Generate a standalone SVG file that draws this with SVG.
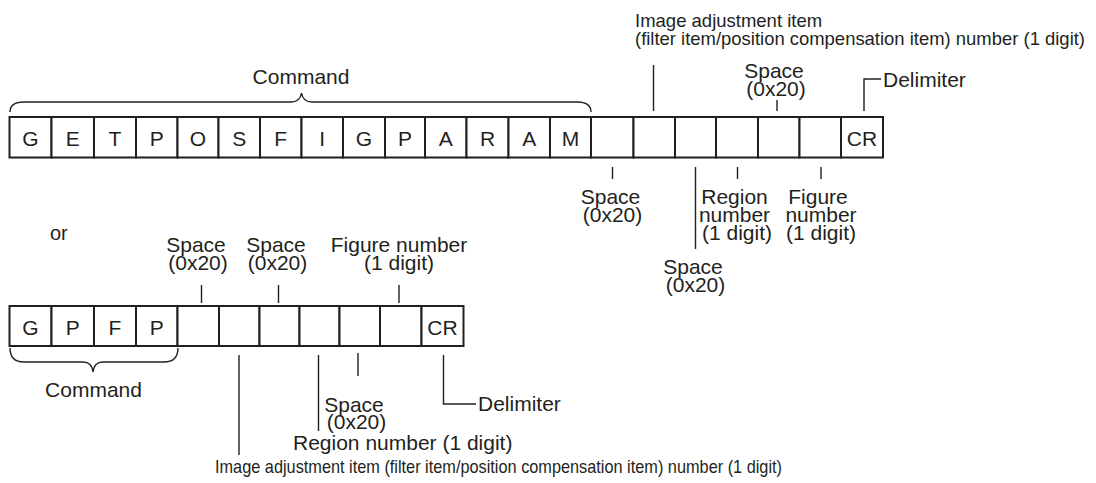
<svg xmlns="http://www.w3.org/2000/svg" width="1096" height="483" viewBox="0 0 1096 483">
<style>
.cell{fill:#fff;stroke:#231f20;stroke-width:2}
.t{font-family:"Liberation Sans",Arial,Helvetica,sans-serif;font-size:21px;fill:#231f20}
.c{text-anchor:middle}
.s{font-size:18.5px}
.ln{stroke:#231f20;stroke-width:1.4;fill:none}
</style>
<rect width="1096" height="483" fill="#fff"/>
<g id="row1">
<g id="r1c0"><rect class="cell" x="9.5" y="117" width="42" height="40.5"/><text class="t c" x="30.5" y="145.5">G</text></g>
<g id="r1c1"><rect class="cell" x="51.5" y="117" width="42.5" height="40.5"/><text class="t c" x="72.7" y="145.5">E</text></g>
<g id="r1c2"><rect class="cell" x="94" y="117" width="42" height="40.5"/><text class="t c" x="115" y="145.5">T</text></g>
<g id="r1c3"><rect class="cell" x="136" y="117" width="41.5" height="40.5"/><text class="t c" x="156.7" y="145.5">P</text></g>
<g id="r1c4"><rect class="cell" x="177.5" y="117" width="41" height="40.5"/><text class="t c" x="198" y="145.5">O</text></g>
<g id="r1c5"><rect class="cell" x="218.5" y="117" width="41.5" height="40.5"/><text class="t c" x="239.2" y="145.5">S</text></g>
<g id="r1c6"><rect class="cell" x="260" y="117" width="41.5" height="40.5"/><text class="t c" x="280.7" y="145.5">F</text></g>
<g id="r1c7"><rect class="cell" x="301.5" y="117" width="41.5" height="40.5"/><text class="t c" x="322.2" y="145.5">I</text></g>
<g id="r1c8"><rect class="cell" x="343" y="117" width="42" height="40.5"/><text class="t c" x="364" y="145.5">G</text></g>
<g id="r1c9"><rect class="cell" x="385" y="117" width="40" height="40.5"/><text class="t c" x="405" y="145.5">P</text></g>
<g id="r1c10"><rect class="cell" x="425" y="117" width="41.5" height="40.5"/><text class="t c" x="445.7" y="145.5">A</text></g>
<g id="r1c11"><rect class="cell" x="466.5" y="117" width="42" height="40.5"/><text class="t c" x="487.5" y="145.5">R</text></g>
<g id="r1c12"><rect class="cell" x="508.5" y="117" width="41.5" height="40.5"/><text class="t c" x="529.2" y="145.5">A</text></g>
<g id="r1c13"><rect class="cell" x="550" y="117" width="41" height="40.5"/><text class="t c" x="570.5" y="145.5">M</text></g>
<g id="r1c14"><rect class="cell" x="591" y="117" width="42.5" height="40.5"/></g>
<g id="r1c15"><rect class="cell" x="633.5" y="117" width="41.5" height="40.5"/></g>
<g id="r1c16"><rect class="cell" x="675" y="117" width="41" height="40.5"/></g>
<g id="r1c17"><rect class="cell" x="716" y="117" width="42" height="40.5"/></g>
<g id="r1c18"><rect class="cell" x="758" y="117" width="41.5" height="40.5"/></g>
<g id="r1c19"><rect class="cell" x="799.5" y="117" width="41.5" height="40.5"/></g>
<g id="r1c20"><rect class="cell" x="841" y="117" width="42" height="40.5"/><text class="t c" x="862" y="145.5">CR</text></g>
</g>
<g id="row2">
<g id="r2c0"><rect class="cell" x="9.5" y="306" width="42" height="40"/><text class="t c" x="30.5" y="334.5">G</text></g>
<g id="r2c1"><rect class="cell" x="51.5" y="306" width="42.5" height="40"/><text class="t c" x="72.7" y="334.5">P</text></g>
<g id="r2c2"><rect class="cell" x="94" y="306" width="42" height="40"/><text class="t c" x="115" y="334.5">F</text></g>
<g id="r2c3"><rect class="cell" x="136" y="306" width="41.5" height="40"/><text class="t c" x="156.7" y="334.5">P</text></g>
<g id="r2c4"><rect class="cell" x="177.5" y="306" width="41.5" height="40"/></g>
<g id="r2c5"><rect class="cell" x="219" y="306" width="40.5" height="40"/></g>
<g id="r2c6"><rect class="cell" x="259.5" y="306" width="40" height="40"/></g>
<g id="r2c7"><rect class="cell" x="299.5" y="306" width="40" height="40"/></g>
<g id="r2c8"><rect class="cell" x="339.5" y="306" width="40.5" height="40"/></g>
<g id="r2c9"><rect class="cell" x="380" y="306" width="41.5" height="40"/></g>
<g id="r2c10"><rect class="cell" x="421.5" y="306" width="42" height="40"/><text class="t c" x="442.5" y="334.5">CR</text></g>
</g>
<g id="connectors">
<path class="ln" d="M10,112 Q10,102 24,102 L291,102 Q300,102 301.5,93 Q303,102 312,102 L577,102 Q591,102 591,112"/>
<line class="ln" x1="653.5" y1="65" x2="653.5" y2="111"/>
<line class="ln" x1="777" y1="100" x2="777" y2="111"/>
<polyline class="ln" points="864,111 864,79 881,79"/>
<line class="ln" x1="612.5" y1="167" x2="612.5" y2="179"/>
<line class="ln" x1="695.5" y1="167" x2="695.5" y2="249"/>
<line class="ln" x1="737.5" y1="167" x2="737.5" y2="179"/>
<line class="ln" x1="821" y1="167" x2="821" y2="179"/>
<path class="ln" d="M10,348 Q10,362 24,362 L83,362 Q92,362 93,372 Q94,362 103,362 L164,362 Q178,362 178,348"/>
<line class="ln" x1="201.5" y1="285" x2="201.5" y2="303"/>
<line class="ln" x1="278.5" y1="285" x2="278.5" y2="303"/>
<line class="ln" x1="399" y1="285" x2="399" y2="303"/>
<line class="ln" x1="239" y1="355" x2="239" y2="455"/>
<line class="ln" x1="318.5" y1="355" x2="318.5" y2="431"/>
<line class="ln" x1="358" y1="353" x2="358" y2="376"/>
<polyline class="ln" points="443.5,355 443.5,404 476,404"/>
</g>
<g id="labels">
<g id="lbl-cmd1"><text class="t c" x="301" y="84">Command</text></g>
<g id="lbl-img1"><text class="t s" x="635" y="26.5">Image adjustment item</text><text class="t s" x="635" y="45" textLength="450" lengthAdjust="spacingAndGlyphs">(filter item/position compensation item) number (1 digit)</text></g>
<g id="lbl-sp1a"><text class="t c" x="774" y="77.5">Space</text><text class="t c" x="776" y="96">(0x20)</text></g>
<g id="lbl-del1"><text class="t" x="883" y="86.5">Delimiter</text></g>
<g id="lbl-sp1b"><text class="t c" x="610.5" y="203.5">Space</text><text class="t c" x="612.5" y="221.5">(0x20)</text></g>
<g id="lbl-sp1c"><text class="t c" x="693" y="274">Space</text><text class="t c" x="695.5" y="292">(0x20)</text></g>
<g id="lbl-reg1"><text class="t c" x="734.5" y="204">Region</text><text class="t c" x="734.5" y="222">number</text><text class="t c" x="737" y="240">(1 digit)</text></g>
<g id="lbl-fig1"><text class="t c" x="818" y="204">Figure</text><text class="t c" x="821" y="222">number</text><text class="t c" x="821" y="240">(1 digit)</text></g>
<g id="lbl-or"><text class="t" x="50" y="240" style="font-size:20px">or</text></g>
<g id="lbl-sp2a"><text class="t c" x="196" y="252">Space</text><text class="t c" x="198" y="270">(0x20)</text></g>
<g id="lbl-sp2b"><text class="t c" x="276" y="252">Space</text><text class="t c" x="277.5" y="270">(0x20)</text></g>
<g id="lbl-fig2"><text class="t c" x="399" y="252">Figure number</text><text class="t c" x="399" y="270">(1 digit)</text></g>
<g id="lbl-cmd2"><text class="t c" x="93.5" y="397">Command</text></g>
<g id="lbl-del2"><text class="t" x="478" y="411">Delimiter</text></g>
<g id="lbl-sp2c"><text class="t c" x="354" y="412">Space</text><text class="t c" x="356.5" y="429">(0x20)</text></g>
<g id="lbl-reg2"><text class="t" x="293" y="450">Region number (1 digit)</text></g>
<g id="lbl-img2"><text class="t" x="215" y="473" style="font-size:19px" textLength="567" lengthAdjust="spacingAndGlyphs">Image adjustment item (filter item/position compensation item) number (1 digit)</text></g>
</g>
</svg>
